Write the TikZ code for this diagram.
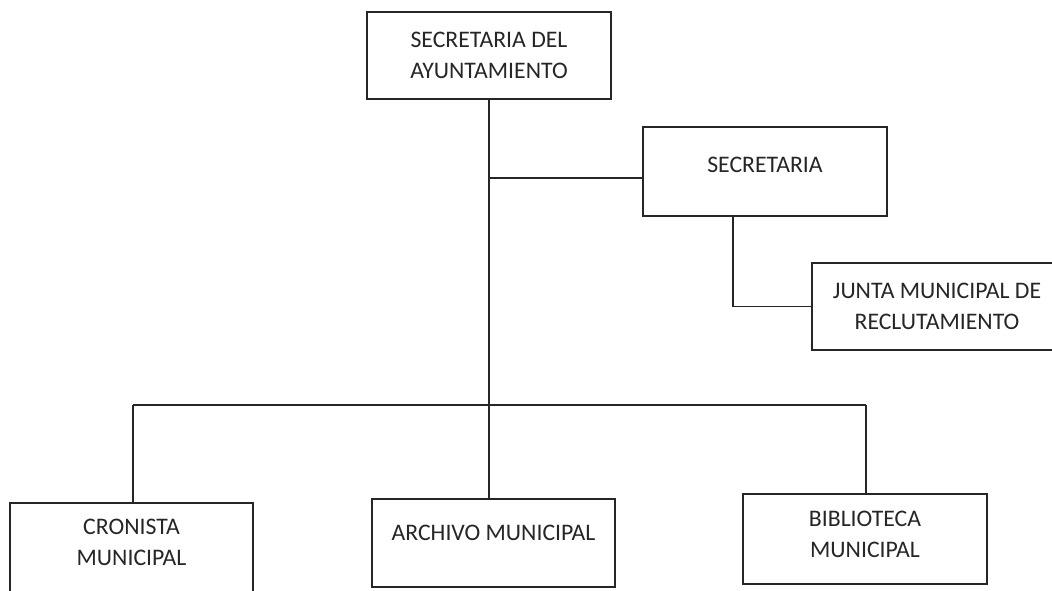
\documentclass[tikz,border=0pt]{standalone}
\usepackage{fontspec}
\setmainfont{Carlito}
\begin{document}
\begin{tikzpicture}[x=0.75pt,y=-0.75pt,
  orgbox/.style={draw=black!85, line width=0.9pt, rectangle, align=center, inner sep=0pt,
    font=\fontsize{17.8}{22.8}\selectfont, text=black!85},
  link/.style={draw=black!85, line width=0.8pt}]
\clip (0,0) rectangle (1052,591);
\useasboundingbox (0,0) rectangle (1052,591);
\fill[white] (0,0) rectangle (1052,591);

\node[orgbox, minimum width=244*0.75pt, minimum height=87*0.75pt] (top) at (489,55.5) {SECRETARIA DEL\\AYUNTAMIENTO};
\node[orgbox, minimum width=244*0.75pt, minimum height=89*0.75pt, text depth=10pt] (secre) at (765,171.5) {SECRETARIA};
\node[orgbox, minimum width=250*0.75pt, minimum height=87*0.75pt] (junta) at (937,306.5) {JUNTA MUNICIPAL DE\\RECLUTAMIENTO};
\node[orgbox, minimum width=243*0.75pt, minimum height=92*0.75pt, text depth=10pt] (cron) at (131.5,549) {CRONISTA\\MUNICIPAL};
\node[orgbox, minimum width=243*0.75pt, minimum height=88*0.75pt, text depth=16pt] (arch) at (493.5,543) {ARCHIVO MUNICIPAL};
\node[orgbox, minimum width=244*0.75pt, minimum height=90*0.75pt, text depth=7pt] (bib) at (865,539) {BIBLIOTECA\\MUNICIPAL};

\coordinate (j1) at (489,178);
\coordinate (s1) at (733,216);
\coordinate (busL) at (133,405);
\coordinate (busR) at (866,405);

\draw[link] (top.south) -- (top.south |- arch.north);
\draw[link] (j1) -- (j1 -| secre.west);
\draw[link] (s1) |- (junta.west);
\draw[link] (busL) -- (busR);
\draw[link] (busL) -- (busL |- cron.north);
\draw[link] (busR) -- (busR |- bib.north);
\end{tikzpicture}
\end{document}
